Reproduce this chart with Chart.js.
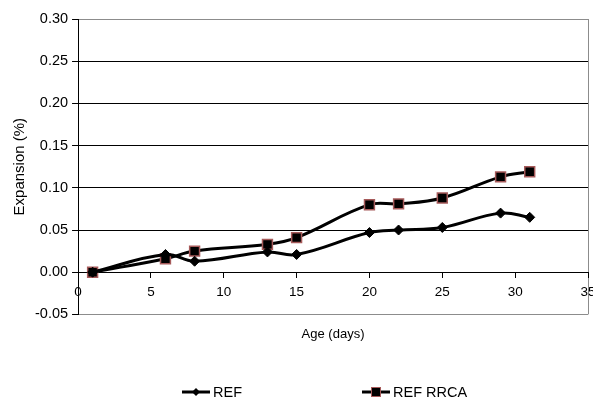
<!DOCTYPE html>
<html>
<head>
<meta charset="utf-8">
<script src="https://cdn.jsdelivr.net/npm/chart.js@4.4.1/dist/chart.umd.min.js"></script>
<style>
  body { margin:0; background:#fff; }
  #wrap { position:relative; width:593px; height:401px; }
  #legend { position:absolute; top:384px; left:0; width:593px; height:17px; font:14.5px "Liberation Sans", Arial, sans-serif; color:#000; }
  .item { position:absolute; display:flex; align-items:center; }
  .item svg { margin-right:3px; }
</style>
</head>
<body>
<div id="wrap">
  <canvas id="chart" width="593" height="401"></canvas>
  <div id="legend"></div>
</div>
<script>
/* ---------------------------
   Data
   --------------------------- */
const days = [1, 6, 8, 13, 15, 20, 22, 25, 29, 31];
const refValues = [0.000, 0.021, 0.013, 0.024, 0.021, 0.047, 0.050, 0.053, 0.070, 0.065];
const rrcaValues = [0.000, 0.016, 0.025, 0.033, 0.041, 0.080, 0.081, 0.088, 0.113, 0.119];
const seriesNames = ['REF', 'REF RRCA'];

const FONT = '"Liberation Sans", Arial, sans-serif';
Chart.defaults.font.family = FONT;
Chart.defaults.font.size = 13;
Chart.defaults.color = '#000';

const toPoints = vals => days.map((d, i) => ({ x: d, y: vals[i] }));
const near = (a, b) => Math.abs(a - b) < 1e-6;
// let edge labels run off the plot like the original
const noSidePad = s => { s.paddingLeft = 0; s.paddingRight = 0; };

/* ---------------------------
   Chart
   --------------------------- */
const ctx = document.getElementById('chart').getContext('2d');
const chart = new Chart(ctx, {
  type: 'line',
  data: {
    datasets: [
      {
        label: seriesNames[0],
        data: toPoints(refValues),
        borderColor: '#000',
        borderWidth: 3,
        tension: 0.4,
        pointStyle: 'rectRot',
        pointRadius: 5,
        pointBackgroundColor: '#000',
        pointBorderColor: '#000',
        pointBorderWidth: 1
      },
      {
        label: seriesNames[1],
        data: toPoints(rrcaValues),
        borderColor: '#000',
        borderWidth: 3,
        tension: 0.4,
        pointStyle: 'rect',
        pointRadius: 7,
        pointBackgroundColor: '#000',
        pointBorderColor: '#a65a5a',
        pointBorderWidth: 1.5
      }
    ]
  },
  options: {
    responsive: false,
    animation: false,
    layout: { autoPadding: false, padding: { left: 11, right: 5, top: 19, bottom: 55 } },
    plugins: { legend: { display: false }, tooltip: { enabled: false } },
    scales: {
      x: {
        type: 'linear',
        position: { y: 0 },
        min: 0, max: 35,
        ticks: { stepSize: 5, padding: 7, font: { size: 13.5 } },
        grid: {
          color: c => (c.tick && c.tick.value === 35) ? '#8c8c8c' : 'rgba(0,0,0,0)',
          tickColor: '#000',
          tickLength: 5
        },
        border: { color: '#000', width: 1 },
        afterFit: noSidePad
      },
      xTitle: {
        type: 'linear',
        position: 'bottom',
        ticks: { display: false },
        grid: { display: false, drawTicks: false },
        border: { display: false },
        title: { display: true, text: 'Age (days)', font: { size: 13 }, padding: { top: 12, bottom: 4 } },
        afterFit: noSidePad
      },
      y: {
        min: -0.05, max: 0.30,
        ticks: {
          stepSize: 0.05, padding: 4, font: { size: 14.5 },
          callback: v => (Math.abs(v) < 1e-9 ? 0 : v).toFixed(2)
        },
        grid: {
          color: c => (c.tick && (near(c.tick.value, 0.30) || near(c.tick.value, -0.05))) ? '#8c8c8c' : '#000',
          tickColor: '#000',
          tickLength: 6
        },
        border: { color: '#000', width: 1 },
        title: { display: true, text: 'Expansion (%)', font: { size: 15 }, padding: { top: 0, bottom: 2 } }
      }
    }
  }
});

/* ---------------------------
   Legend (line + marker, like the original)
   --------------------------- */
const legendPos = [182, 362];
const markers = [
  '<polygon points="14,1 18,5 14,9 10,5" fill="#000"/>',
  '<rect x="9.5" y="0.5" width="9" height="9" fill="#000" stroke="#a65a5a" stroke-width="1"/>'
];
const legend = document.getElementById('legend');
chart.data.datasets.forEach((ds, i) => {
  const el = document.createElement('div');
  el.className = 'item';
  el.style.left = legendPos[i] + 'px';
  el.innerHTML = `<svg width="28" height="10"><line x1="0" y1="5" x2="28" y2="5" stroke="#000" stroke-width="3"/>${markers[i]}</svg><span>${ds.label}</span>`;
  legend.appendChild(el);
});
</script>
</body>
</html>
